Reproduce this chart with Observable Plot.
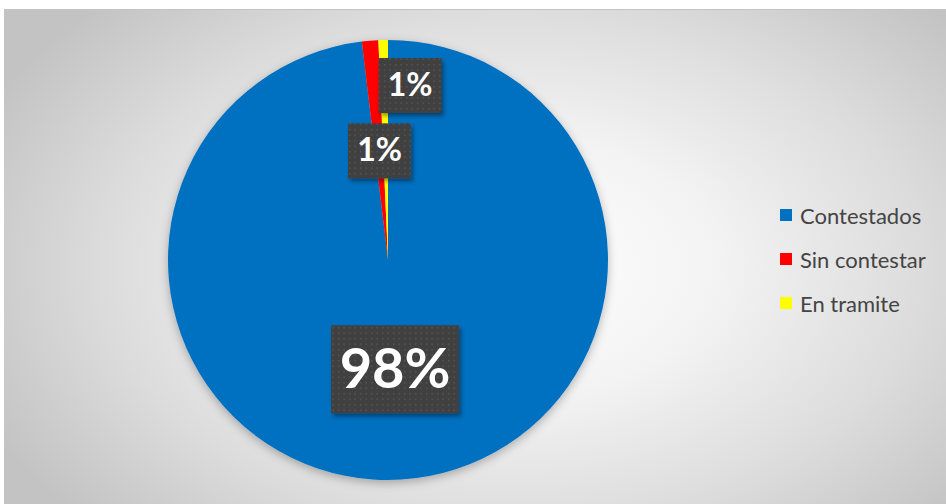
<!DOCTYPE html>
<html><head><meta charset="utf-8">
<script src="https://cdn.jsdelivr.net/npm/d3@7"></script>
<script src="https://cdn.jsdelivr.net/npm/@observablehq/plot@0.6"></script>
<style>
html,body{margin:0;padding:0;background:#fff;}
#wrap{position:relative;width:946px;height:504px;overflow:hidden;}
#bg{position:absolute;left:4px;top:9px;width:942px;height:495px;
  background:radial-gradient(ellipse 62% 75% at 54% 52%, #ffffff 0%, #f3f3f3 35%, #dcdcdc 70%, #c3c3c3 100%);
  border-top:1px solid #c4c4c4;}
#chart{position:absolute;left:0;top:0;}
#legend{position:absolute;left:780px;top:193px;}
#legend, #legend *{font-family:Lato, "Open Sans", sans-serif;font-size:22px;color:#444444;}
.lg-swatch{height:44px;margin:0 !important;padding:0 !important;display:flex;align-items:center;}
.lg-swatch svg{margin-right:8px !important;}
</style></head><body>
<div id="wrap"><div id="bg"></div><div id="chart"></div><div id="legend"></div></div>
<script>
const categories = ["Contestados", "Sin contestar", "En tramite"];
const values = [98.1, 1.2, 0.7];
const labels = ["98%", "1%", "1%"];
const colors = ["#0070C0", "#FF0000", "#FFFF00"];

const rows = categories.map((c, i) => ({category: c, value: values[i], label: labels[i]}));
const arcs = d3.pie().sort(null).value(d => d.value)(rows);
const labelRows = arcs.map(a => {
  const m = (a.startAngle + a.endAngle) / 2;
  return {category: a.data.category, label: a.data.label, big: a.data.value > 50,
          x: Math.sin(m) * 0.5, y: Math.cos(m) * 0.5};
});

const pie = Plot.dot(arcs, {
  x: () => 0, y: () => 0, fill: d => d.data.category,
  render(index, scales, vals) {
    const cx = scales.x(0), cy = scales.y(0), r = scales.x(1) - scales.x(0);
    const arc = d3.arc().innerRadius(0).outerRadius(r);
    const g = d3.create("svg:g").attr("transform", `translate(${cx},${cy})`).attr("filter", "url(#pieShadow)");
    for (const i of index) g.append("path").attr("d", arc(arcs[i])).attr("fill", vals.fill[i]);
    return g.node();
  }
});

function boxed(index, scales, vals, dims, ctx, next) {
  const g = next(index, scales, vals, dims, ctx);
  for (const i of index) {
    const big = labelRows[i].big;
    const w = big ? 128 : 63, h = big ? 88 : 55;
    const rect = document.createElementNS("http://www.w3.org/2000/svg", "rect");
    rect.setAttribute("x", vals.x[i] - w / 2);
    rect.setAttribute("y", vals.y[i] - h / 2 + (big ? -1 : 0));
    rect.setAttribute("width", w);
    rect.setAttribute("height", h);
    rect.setAttribute("fill", "url(#dots)");
    rect.setAttribute("filter", "url(#boxShadow)");
    g.insertBefore(rect, g.firstChild);
  }
  return g;
}

const textOpts = {
  x: "x", y: "y", text: "label", fill: "white", fontWeight: "bold",
  fontFamily: "Lato, 'Open Sans', sans-serif",
  fontSize: d => d.big ? 56 : 32, render: boxed
};

const plot = Plot.plot({
  width: 946, height: 504, margin: 0,
  style: {background: "none", overflow: "visible"},
  x: {domain: [-1, 1], range: [168, 608], axis: null},
  y: {domain: [-1, 1], range: [480, 40], axis: null},
  color: {domain: categories, range: colors},
  marks: [
    pie,
    Plot.text(labelRows, {...textOpts, filter: (d, i) => i < 2}),
    Plot.text(labelRows, {...textOpts, filter: (d, i) => i === 2, dx: 24, dy: -65})
  ]
});

const defs = d3.create("svg:defs");
const pat = defs.append("pattern").attr("id", "dots").attr("patternUnits", "userSpaceOnUse")
  .attr("width", 5.5).attr("height", 5.5);
pat.append("rect").attr("width", 5.5).attr("height", 5.5).attr("fill", "#404040");
pat.append("rect").attr("x", 2).attr("y", 2).attr("width", 1.4).attr("height", 1.4).attr("fill", "#5c5c5c");
defs.append("filter").attr("id", "pieShadow").attr("x", "-10%").attr("y", "-10%").attr("width", "120%").attr("height", "125%")
  .append("feDropShadow").attr("dx", 0).attr("dy", 3).attr("stdDeviation", 5).attr("flood-color", "#000").attr("flood-opacity", 0.28);
defs.append("filter").attr("id", "boxShadow").attr("x", "-20%").attr("y", "-20%").attr("width", "150%").attr("height", "150%")
  .append("feDropShadow").attr("dx", 2).attr("dy", 3).attr("stdDeviation", 2).attr("flood-color", "#000").attr("flood-opacity", 0.4);
plot.insertBefore(defs.node(), plot.firstChild);

document.getElementById("chart").appendChild(plot);

const legend = Plot.legend({
  color: {domain: categories, range: colors},
  legend: "swatches", columns: 1, swatchSize: 12, className: "lg"
});
document.getElementById("legend").appendChild(legend);
</script>
</body></html>
